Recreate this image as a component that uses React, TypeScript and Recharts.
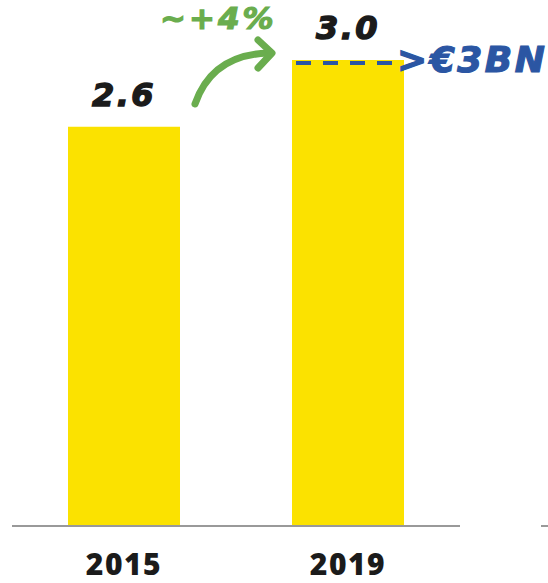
import { Bar, BarChart, LabelList, XAxis, YAxis } from "recharts";

const years = ["2015", "2019"];
const revenue = [2.57, 3.0];
const growthNote = "~+4%";
const targetNote = ">€3BN";

const data = years.map((year, i) => ({ year, value: revenue[i] }));

const heavyItalic = {
  fontFamily: "'DejaVu Sans', sans-serif",
  fontWeight: 700,
  fontStyle: "italic" as const,
};

function ValueLabel(props: any) {
  const { x, y, width, value } = props;
  return (
    <text
      x={Number(x) + Number(width) / 2}
      y={Number(y) - 21}
      textAnchor="middle"
      fill="#1b1b1b"
      stroke="#1b1b1b"
      strokeWidth={1.4}
      fontSize={32}
      letterSpacing={2.5}
      style={heavyItalic}
    >
      {Number(value).toFixed(1)}
    </text>
  );
}

function YearTick(props: any) {
  const { x, y, payload } = props;
  return (
    <text
      x={x}
      y={y + 49}
      textAnchor="middle"
      fill="#1b1b1b"
      fontSize={30}
      fontWeight={800}
      letterSpacing={1.5}
      fontFamily="'Open Sans', sans-serif"
    >
      {payload.value}
    </text>
  );
}

// notes drawn over the bars
function Annotations() {
  return (
    <svg width={548} height={583} style={{ position: "absolute", left: 0, top: 0, pointerEvents: "none" }}>
      <text x={160} y={29} fill="#6aad4e" stroke="#6aad4e" strokeWidth={1.2} fontSize={31} letterSpacing={3} style={heavyItalic}>
        {growthNote}
      </text>
      <path d="M195,104 Q212,55 268,53" fill="none" stroke="#6aad4e" strokeWidth={7} strokeLinecap="round" />
      <path d="M258,40 L272,53 L258,68" fill="none" stroke="#6aad4e" strokeWidth={7} strokeLinecap="round" strokeLinejoin="round" />
      <line x1={296} y1={63} x2={398} y2={63} stroke="#2b56a3" strokeWidth={4} strokeDasharray="15 12" />
      <text x={397} y={72} fill="#2b56a3" stroke="#2b56a3" strokeWidth={1.2} fontSize={36} letterSpacing={2.5} style={heavyItalic}>
        {targetNote}
      </text>
      <line x1={541} y1={526} x2={548} y2={526} stroke="#999" strokeWidth={2} />
    </svg>
  );
}

export default function App() {
  return (
    <div style={{ position: "absolute", left: 0, top: 0, width: 548, height: 583, background: "#fff", overflow: "hidden" }}>
      <BarChart width={548} height={583} data={data} margin={{ top: 60, right: 88, left: 12, bottom: 0 }}>
        <XAxis
          dataKey="year"
          height={57}
          tickSize={0}
          tickMargin={0}
          tickLine={false}
          axisLine={{ stroke: "#999", strokeWidth: 2 }}
          tick={<YearTick />}
        />
        <YAxis hide domain={[0, 3]} allowDataOverflow />
        <Bar dataKey="value" fill="#fbe200" barSize={112} isAnimationActive={false}>
          <LabelList dataKey="value" content={<ValueLabel />} />
        </Bar>
      </BarChart>
      <Annotations />
    </div>
  );
}
